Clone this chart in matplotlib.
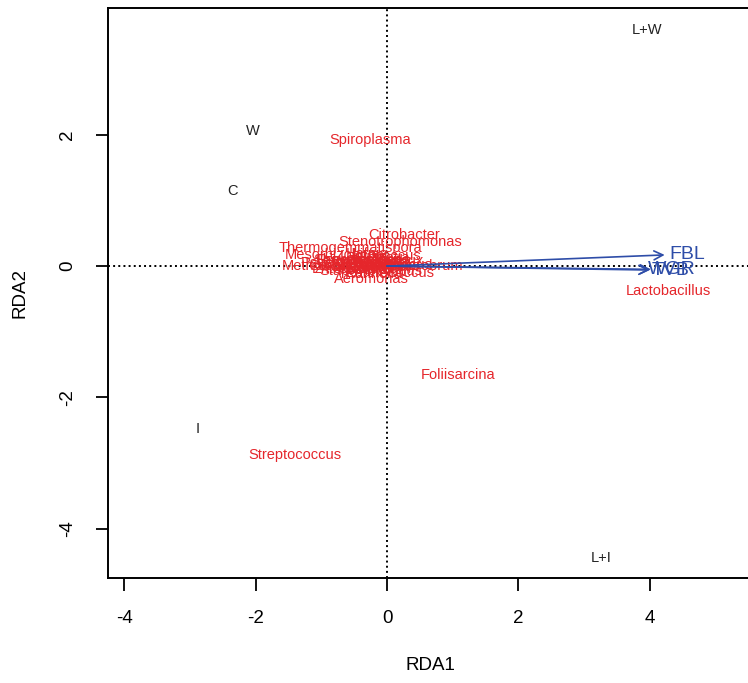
import numpy as np
import matplotlib
matplotlib.use('Agg')
import matplotlib.pyplot as plt

plt.rcParams['font.family'] = ['Liberation Sans', 'DejaVu Sans']
plt.rcParams['axes.unicode_minus'] = False  # R 风格的负号

# 样方得分 (sites)
site_names = ['L+W', 'W', 'C', 'I', 'L+I']
site_x = [3.96, -2.05, -2.36, -2.89, 3.27]
site_y = [3.59, 2.05, 1.14, -2.48, -4.44]

# 物种得分 (species)
sp_names = ['Spiroplasma', 'Foliisarcina', 'Streptococcus', 'Lactobacillus',
            'Citrobacter', 'Stenotrophomonas', 'Thermogemmatispora',
            'Mesorhizobium', 'Methylobacterium', 'Aeromonas', 'Enterococcus',
            'Anaerobrum', 'Pseudomonas', 'Weissella', 'Leuconostoc',
            'Acinetobacter', 'Serratia', 'Psychrobacter', 'Clostridium',
            'Bacillus', 'Carnobacterium', 'Brochothrix', 'Staphylococcus',
            'Enterobacter', 'Lactococcus', 'Hafnia', 'Rahnella',
            'Shewanella', 'Vagococcus', 'Kocuria', 'Macrococcus']
sp_x = [-0.26, 1.08, -1.40, 4.28,
        0.26, 0.20, -0.56,
        -0.80, -0.72, -0.24, 0.05,
        0.55, -0.35, -0.15, -0.45,
        -0.30, -0.05, -0.60, -0.20,
        -0.10, -0.40, 0.00, -0.25,
        -0.50, -0.10, -0.30, -0.20,
        -0.55, 0.10, -0.35, -0.15]
sp_y = [1.92, -1.66, -2.88, -0.38,
        0.47, 0.37, 0.27,
        0.17, 0.00, -0.20, -0.10,
        0.00, 0.10, 0.05, 0.08,
        -0.02, 0.12, 0.05, -0.05,
        0.03, 0.00, 0.08, -0.08,
        -0.04, 0.15, 0.18, -0.12,
        0.10, 0.02, -0.06, 0.00]

# 环境因子箭头 (biplot)
env_names = ['FBL', 'TVB', 'WGR']
env_x = [4.23, 4.00, 4.02]
env_y = [0.17, -0.06, -0.05]

red = '#E5262B'
blue = '#2E4DA8'

fig = plt.figure(figsize=(7.48, 6.83), dpi=100)
ax = fig.add_axes([108 / 748, 105 / 683, (752 - 108) / 748, (578 - 8) / 683])
ax.set_xlim(-4.25, 5.56)
ax.set_ylim(-4.75, 3.93)

ax.axhline(0, color='black', ls=':', lw=1.4, zorder=1)
ax.axvline(0, color='black', ls=':', lw=1.4, zorder=1)

for n, x, y in zip(site_names, site_x, site_y):
    ax.text(x, y, n, ha='center', va='center', fontsize=10.5, color='#222222')

for n, x, y in zip(sp_names, sp_x, sp_y):
    ax.text(x, y, n, ha='center', va='center', fontsize=10.5, color=red, zorder=3)

for n, x, y in zip(env_names, env_x, env_y):
    ax.annotate('', xy=(x, y), xytext=(0, 0),
                arrowprops=dict(arrowstyle='->', color=blue, lw=1.2,
                                mutation_scale=16, shrinkA=0, shrinkB=0),
                zorder=4)
    ax.text(x * 1.08, y, n, ha='center', va='center', fontsize=14,
            color=blue, zorder=5)

ax.set_xticks([-4, -2, 0, 2, 4])
ax.set_yticks([-4, -2, 0, 2])
ax.tick_params(direction='out', length=9, width=1.3, labelsize=13.5, pad=14)
for lab in ax.get_yticklabels():
    lab.set_rotation(90)
    lab.set_va('center')
for s in ax.spines.values():
    s.set_linewidth(1.4)

ax.set_xlabel('RDA1', fontsize=13.5, labelpad=22)
ax.set_ylabel('RDA2', fontsize=13.5, labelpad=22)

fig.savefig('out.png', dpi=100)
